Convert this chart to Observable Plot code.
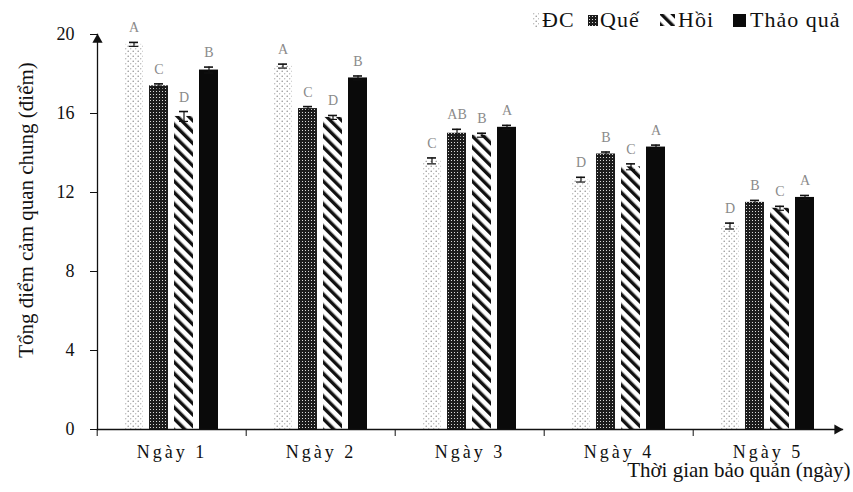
<!DOCTYPE html>
<html>
<head>
<meta charset="utf-8">
<script src="https://cdn.jsdelivr.net/npm/d3@7"></script>
<script src="https://cdn.jsdelivr.net/npm/@observablehq/plot@0.6"></script>
<style>
  body { margin: 0; background: #fff; }
  #wrap { position: relative; width: 853px; height: 492px; overflow: hidden; }
  #wrap svg text { font-family: "Liberation Serif", "Times New Roman", serif; }
  #legend { position: absolute; left: 0; top: 0; }
  #defs { position: absolute; left: 0; top: 0; }
  g[aria-label="fx-axis tick label"] text { letter-spacing: 3px; }
  g[aria-label="ytitle"] text { letter-spacing: 2px; text-anchor: middle; }
</style>
</head>
<body>
<div id="wrap">
<svg id="defs" width="0" height="0">
  <defs>
    <pattern id="pDC" width="5" height="5" patternUnits="userSpaceOnUse">
      <circle cx="1.2" cy="1.2" r="0.75" fill="#8a8a8a"></circle>
      <circle cx="3.7" cy="3.7" r="0.7" fill="#b4b4b4"></circle>
    </pattern>
    <pattern id="pQue" width="3" height="3" patternUnits="userSpaceOnUse">
      <rect width="3" height="3" fill="#1c1c1c"></rect>
      <rect x="1" y="1" width="1" height="1" fill="#d8d8d8"></rect>
    </pattern>
    <pattern id="pHoi" width="8" height="8" patternUnits="userSpaceOnUse" patternTransform="rotate(-45)">
      <rect width="3.4" height="8" fill="#111"></rect>
    </pattern>
  </defs>
</svg>
</div>
<script>
// ---- data ----
const days = ["Ngày 1", "Ngày 2", "Ngày 3", "Ngày 4", "Ngày 5"];
const series = ["ĐC", "Quế", "Hồi", "Thảo quả"];

const valuesDC      = [19.5, 18.4, 13.6, 12.65, 10.3];
const valuesQue     = [17.4, 16.25, 15.0, 13.95, 11.5];
const valuesHoi     = [15.85, 15.8, 14.9, 13.3, 11.2];
const valuesThaoQua = [18.2, 17.8, 15.3, 14.3, 11.75];

const errDC      = [0.1, 0.1, 0.15, 0.12, 0.15];
const errQue     = [0.1, 0.1, 0.2, 0.1, 0.1];
const errHoi     = [0.25, 0.1, 0.1, 0.15, 0.1];
const errThaoQua = [0.15, 0.1, 0.1, 0.1, 0.1];

const lettersDC      = ["A", "A", "C", "D", "D"];
const lettersQue     = ["C", "C", "AB", "B", "B"];
const lettersHoi     = ["D", "D", "B", "C", "C"];
const lettersThaoQua = ["B", "B", "A", "A", "A"];

const yTicks = [0, 4, 8, 12, 16, 20];
const yTitle = "Tổng điểm cảm quan chung (điểm)";
const xTitle = "Thời gian bảo quản (ngày)";

const fills = ["url(#pDC)", "url(#pQue)", "url(#pHoi)", "#0a0a0a"];

// ---- table ----
const valueSets = [valuesDC, valuesQue, valuesHoi, valuesThaoQua];
const errSets = [errDC, errQue, errHoi, errThaoQua];
const letterSets = [lettersDC, lettersQue, lettersHoi, lettersThaoQua];
const rows = [];
days.forEach((day, i) => {
  series.forEach((s, j) => {
    rows.push({day, series: s, value: valueSets[j][i], err: errSets[j][i], letter: letterSets[j][i]});
  });
});

const chart = Plot.plot({
  width: 853,
  height: 492,
  marginLeft: 95,
  marginRight: 10,
  marginTop: 34,
  marginBottom: 63,
  style: {fontFamily: "Liberation Serif", fontSize: "18px", color: "#111", background: "transparent"},
  fx: {domain: days, padding: 0},
  x: {domain: series, paddingInner: 0.23, paddingOuter: 1, axis: null},
  y: {domain: [0, 20]},
  color: {domain: series, range: fills},
  marks: [
    Plot.barY(rows, {fx: "day", x: "series", y: "value", fill: "series"}),
    Plot.ruleX(rows, {fx: "day", x: "series", y1: d => d.value - d.err, y2: d => d.value + d.err, stroke: "#111", strokeWidth: 1.2}),
    Plot.tickY(rows, {fx: "day", x: "series", y: d => d.value + d.err, insetLeft: 5, insetRight: 5, stroke: "#111", strokeWidth: 1.6}),
    Plot.tickY(rows, {fx: "day", x: "series", y: d => d.value - d.err, insetLeft: 5, insetRight: 5, stroke: "#111", strokeWidth: 1.2}),
    Plot.text(rows, {fx: "day", x: "series", y: d => d.value + d.err, text: "letter", dy: -10, lineAnchor: "bottom", fill: "#8a8a8a", fontSize: 14}),
    Plot.axisY({ticks: yTicks, tickSize: 7, tickPadding: 16, label: null, fontSize: 18}),
    Plot.axisFx({anchor: "bottom", tickSize: 7, fill: "none", dx: -74.8, label: null}),
    Plot.axisFx({anchor: "bottom", tickSize: 0, tickPadding: 16, label: null, fontSize: 18}),
    Plot.frame({anchor: "left", facet: "super", stroke: "#111", strokeWidth: 1.3}),
    Plot.frame({anchor: "bottom", facet: "super", stroke: "#111", strokeWidth: 1.3}),
    Plot.dot([0], {frameAnchor: "top-left", symbol: "triangle", r: 3.8, fill: "#111", dy: 5.2, facet: "super"}),
    Plot.dot([0], {frameAnchor: "bottom-right", symbol: "triangle", r: 3.8, rotate: 90, fill: "#111", dx: -5.2, facet: "super"}),
    Plot.text([{t: yTitle, day: days[0]}], {fx: "day", text: "t", frameAnchor: "left", textAnchor: "middle", rotate: -90, dx: -71, dy: -22, fontSize: 21, fill: "#111", ariaLabel: "ytitle"}),
    Plot.text([{t: xTitle, day: days[days.length - 1]}], {fx: "day", text: "t", frameAnchor: "bottom-right", textAnchor: "end", lineAnchor: "bottom", dx: 8, dy: 47, fontSize: 21, fill: "#111", ariaLabel: "xtitle"})
  ]
});
d3.select(chart).selectAll('g[aria-label="xtitle"] text')
  .attr("textLength", 270).attr("lengthAdjust", "spacing");
document.getElementById("wrap").appendChild(chart);

// ---- legend ----
const legend = d3.select("#wrap").append("svg")
  .attr("id", "legend").attr("width", 853).attr("height", 34);
const legendItems = [
  {label: series[0], fill: fills[0], sx: 533, sy: 13, sw: 6, sh: 14, tx: 542},
  {label: series[1], fill: fills[1], sx: 588, sy: 15, sw: 10, sh: 11, tx: 600},
  {label: series[2], fill: fills[2], sx: 660, sy: 14, sw: 15, sh: 12, tx: 678},
  {label: series[3], fill: fills[3], sx: 733, sy: 14, sw: 13, sh: 13, tx: 750}
];
legendItems.forEach(it => {
  legend.append("rect").attr("x", it.sx).attr("y", it.sy).attr("width", it.sw).attr("height", it.sh).attr("fill", it.fill);
  legend.append("text").attr("x", it.tx).attr("y", 27).attr("font-size", 22)
    .attr("letter-spacing", "1px").attr("fill", "#111").text(it.label);
});
</script>
</body>
</html>
